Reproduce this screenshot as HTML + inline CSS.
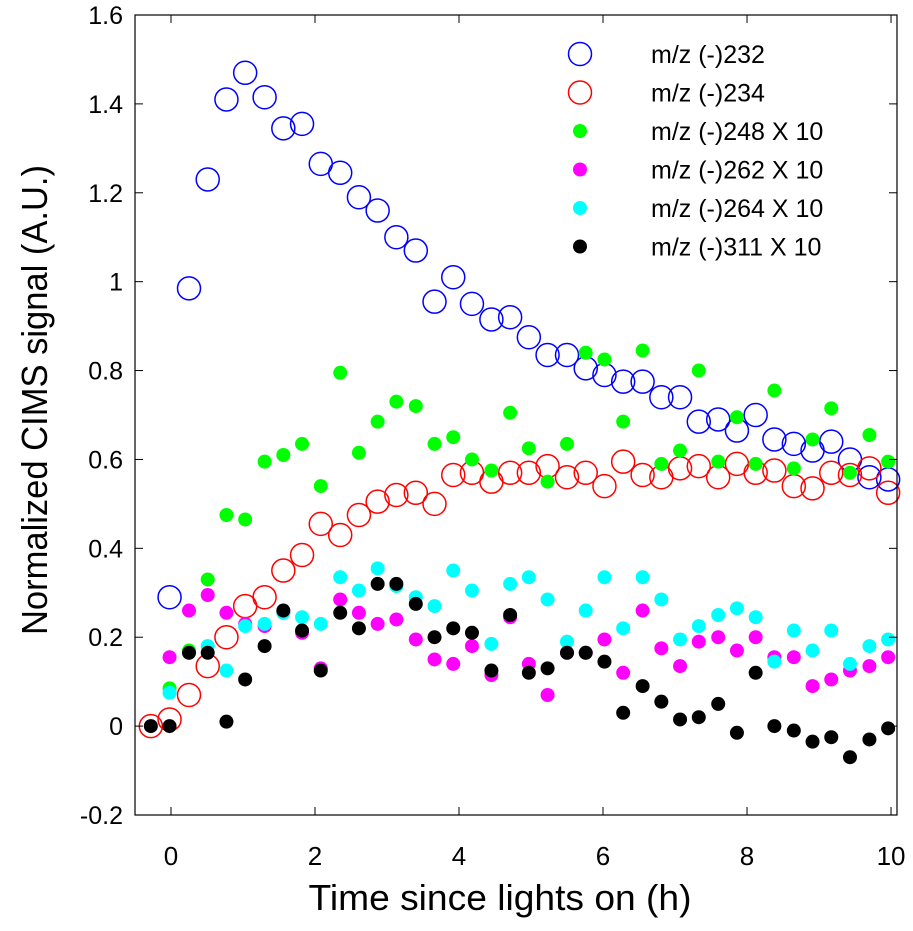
<!DOCTYPE html>
<html><head><meta charset="utf-8"><style>
body{margin:0;background:#fff;}
svg{display:block;font-family:"Liberation Sans",Arial,sans-serif;}
</style></head><body>
<svg id="chart" width="913" height="931"></svg>
<script>
const times=[-0.28,-0.02,0.25,0.51,0.77,1.03,1.30,1.56,1.82,2.08,2.35,2.61,2.87,3.13,3.40,3.66,3.92,4.18,4.45,4.71,4.97,5.23,5.50,5.76,6.02,6.28,6.55,6.81,7.07,7.33,7.60,7.86,8.12,8.38,8.65,8.91,9.17,9.43,9.70,9.96];
const s232=[null,0.29,0.985,1.23,1.41,1.47,1.415,1.345,1.355,1.265,1.245,1.19,1.16,1.10,1.07,0.955,1.01,0.95,0.915,0.92,0.875,0.835,0.835,0.805,0.79,0.775,0.775,0.74,0.74,0.685,0.69,0.665,0.70,0.645,0.635,0.62,0.64,0.60,0.56,0.555];
const s234=[0,0.015,0.07,0.135,0.20,0.27,0.29,0.35,0.385,0.455,0.43,0.475,0.505,0.52,0.525,0.50,0.565,0.57,0.55,0.57,0.57,0.585,0.56,0.57,0.54,0.595,0.565,0.56,0.58,0.585,0.56,0.59,0.57,0.575,0.54,0.535,0.57,0.565,0.58,0.525];
const s248=[null,0.085,0.17,0.33,0.475,0.465,0.595,0.61,0.635,0.54,0.795,0.615,0.685,0.73,0.72,0.635,0.65,0.60,0.575,0.705,0.625,0.55,0.635,0.84,0.825,0.685,0.845,0.59,0.62,0.80,0.595,0.695,0.59,0.755,0.58,0.645,0.715,0.57,0.655,0.595];
const s262=[null,0.155,0.26,0.295,0.255,0.23,0.225,0.255,0.21,0.13,0.285,0.255,0.23,0.24,0.195,0.15,0.14,0.18,0.115,0.245,0.14,0.07,0.165,0.165,0.195,0.12,0.26,0.175,0.135,0.19,0.20,0.17,0.20,0.155,0.155,0.09,0.105,0.125,0.135,0.155];
const s264=[null,0.075,0.165,0.18,0.125,0.225,0.23,0.255,0.245,0.23,0.335,0.305,0.355,0.315,0.29,0.27,0.35,0.305,0.185,0.32,0.335,0.285,0.19,0.26,0.335,0.22,0.335,0.285,0.195,0.225,0.25,0.265,0.245,0.145,0.215,0.17,0.215,0.14,0.18,0.195];
const s311=[0,0,0.165,0.165,0.01,0.105,0.18,0.26,0.215,0.125,0.255,0.22,0.32,0.32,0.275,0.2,0.22,0.21,0.125,0.25,0.12,0.13,0.165,0.165,0.145,0.03,0.09,0.055,0.015,0.02,0.05,-0.015,0.12,0,-0.01,-0.035,-0.025,-0.07,-0.03,-0.005];
const xTicks=[0,2,4,6,8,10];
const yTicks=[-0.2,0,0.2,0.4,0.6,0.8,1,1.2,1.4,1.6];
const legendLabels=["m/z (-)232","m/z (-)234","m/z (-)248 X 10","m/z (-)262 X 10","m/z (-)264 X 10","m/z (-)311 X 10"];

const svg=document.getElementById('chart');
const NS='http://www.w3.org/2000/svg';
const L=135,R=897,T=15,B=815,x0=-0.5,x1=10.083,y0=-0.2,y1=1.6;
const X=v=>L+(v-x0)/(x1-x0)*(R-L);
const Y=v=>B-(v-y0)/(y1-y0)*(B-T);
function mk(tag,at,parent){const e=document.createElementNS(NS,tag);for(const k in at)e.setAttribute(k,at[k]);(parent||svg).appendChild(e);return e;}

const series=[
 {d:s232,open:true,c:'#0000ff'},{d:s234,open:true,c:'#ff0000'},
 {d:s248,open:false,c:'#00ff00'},{d:s262,open:false,c:'#ff00ff'},
 {d:s264,open:false,c:'#00ffff'},{d:s311,open:false,c:'#000000'}];
series.forEach((s,si)=>{
 const g=mk('g',{});
 
 
 s.d.forEach((v,i)=>{
  if(v===null)return;
  const c=mk('circle',s.open?{cx:X(times[i]),cy:Y(v),r:11.5,fill:'none',stroke:s.c,'stroke-width':1.5}:{cx:X(times[i]),cy:Y(v),r:7,fill:s.c},g);
  
  
 });
});

const box=mk('rect',{x:L,y:T,width:R-L,height:B-T,fill:'none',stroke:'#000','stroke-width':1.2});


xTicks.forEach(t=>{
 mk('line',{x1:X(t),x2:X(t),y1:B,y2:B-8,stroke:'#000'});
 mk('line',{x1:X(t),x2:X(t),y1:T,y2:T+8,stroke:'#000'});
 const tx=mk('text',{x:X(t),y:B+50,'text-anchor':'middle','font-size':26});
 tx.textContent=t;
 
 
});
yTicks.forEach(t=>{
 mk('line',{x1:L,x2:L+8,y1:Y(t),y2:Y(t),stroke:'#000'});
 mk('line',{x1:R,x2:R-8,y1:Y(t),y2:Y(t),stroke:'#000'});
 const tx=mk('text',{x:L-12,y:Y(t)+9,'text-anchor':'end','font-size':25});
 tx.textContent=String(+t.toFixed(1));
 
 
});
const xl=mk('text',{x:500,y:910,'text-anchor':'middle','font-size':36,textLength:383,lengthAdjust:'spacingAndGlyphs'});
xl.textContent='Time since lights on (h)';


const yl=mk('text',{x:0,y:0,'text-anchor':'middle','font-size':36,textLength:470,lengthAdjust:'spacingAndGlyphs',transform:'translate(47,400) rotate(-90)'});
yl.textContent='Normalized CIMS signal (A.U.)';



legendLabels.forEach((lab,i)=>{
 const y=54+i*38.5, s=series[i];
 const g=mk('g',{});
 
 
 mk('circle',s.open?{cx:580,cy:y,r:11.5,fill:'none',stroke:s.c,'stroke-width':1.5}:{cx:580,cy:y,r:7,fill:s.c},g);
 const t=mk('text',{x:651,y:y+9,'font-size':25},g);
 t.textContent=lab;
});
</script>
</body></html>
